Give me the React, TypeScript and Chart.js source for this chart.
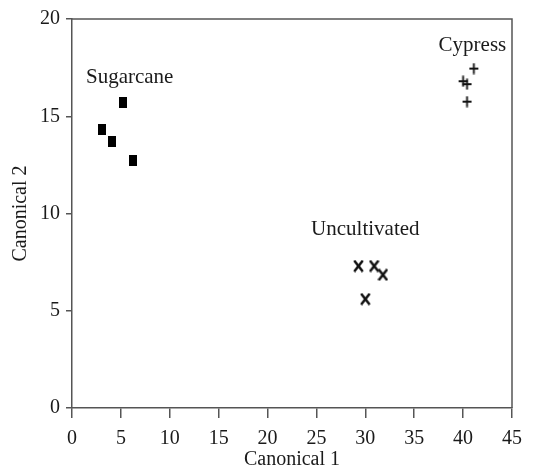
import React, { useEffect, useRef } from "react";
import { Chart, registerables } from "chart.js";

Chart.register(...registerables);

// ---- data ----
const sugarcaneX = [5.2, 3.1, 4.1, 6.2];
const sugarcaneY = [15.7, 14.3, 13.7, 12.7];
const uncultivatedX = [29.3, 30.9, 31.8, 30.0];
const uncultivatedY = [7.3, 7.3, 6.85, 5.6];
const cypressX = [41.1, 40.0, 40.4, 40.4];
const cypressY = [17.45, 16.8, 16.65, 15.75];

const groupNames = ["Sugarcane", "Uncultivated", "Cypress"];
const groupLabelX = [5.9, 30.0, 40.95];
const groupLabelY = [17.0, 9.2, 18.66];

const xTitle = "Canonical 1";
const yTitle = "Canonical 2";
const xMin = 0, xMax = 45, xStep = 5;
const yMin = 0, yMax = 20, yStep = 5;

const FONT = "'Liberation Serif', 'Times New Roman', serif";
const INK = "#1a1a1a";
const AXIS = "#555";

function makeCanvas(w: number, h: number, draw: (c: CanvasRenderingContext2D) => void) {
  const cv = document.createElement("canvas");
  cv.width = w;
  cv.height = h;
  const c = cv.getContext("2d")!;
  draw(c);
  return cv;
}

const toPts = (xs: number[], ys: number[]) => xs.map((x, i) => ({ x, y: ys[i] }));

export default function App() {
  const ref = useRef<HTMLCanvasElement>(null);

  useEffect(() => {
    const square = makeCanvas(8, 11, (c) => {
      c.fillStyle = "#000";
      c.fillRect(0, 0, 8, 11);
    });
    const xMark = makeCanvas(11, 13, (c) => {
      c.strokeStyle = "#111";
      c.lineWidth = 2.5;
      c.beginPath();
      c.moveTo(1.2, 1);
      c.lineTo(9.8, 12);
      c.moveTo(9.8, 1);
      c.lineTo(1.2, 12);
      c.stroke();
    });
    const plus = makeCanvas(11, 12, (c) => {
      c.strokeStyle = "#111";
      c.lineWidth = 1.8;
      c.beginPath();
      c.moveTo(1, 6);
      c.lineTo(10, 6);
      c.moveTo(5.5, 0.5);
      c.lineTo(5.5, 11.5);
      c.stroke();
    });

    const framePlugin = {
      id: "frame",
      afterDraw(chart: any) {
        const { ctx, chartArea: a, scales } = chart;
        ctx.save();
        ctx.strokeStyle = AXIS;
        ctx.lineWidth = 1.5;
        ctx.beginPath();
        ctx.moveTo(a.left, a.top);
        ctx.lineTo(a.right, a.top);
        ctx.lineTo(a.right, a.bottom);
        ctx.stroke();
        ctx.fillStyle = INK;
        ctx.font = `21px ${FONT}`;
        ctx.textAlign = "center";
        ctx.textBaseline = "middle";
        groupNames.forEach((n, i) => {
          ctx.fillText(n, scales.x.getPixelForValue(groupLabelX[i]), scales.y.getPixelForValue(groupLabelY[i]));
        });
        ctx.restore();
      },
    };

    const chart = new Chart(ref.current!, {
      type: "scatter",
      data: {
        datasets: [
          { label: groupNames[0], data: toPts(sugarcaneX, sugarcaneY), pointStyle: square as any, pointRadius: 6 },
          { label: groupNames[1], data: toPts(uncultivatedX, uncultivatedY), pointStyle: xMark as any, pointRadius: 6 },
          { label: groupNames[2], data: toPts(cypressX, cypressY), pointStyle: plus as any, pointRadius: 6 },
        ],
      },
      options: {
        responsive: false,
        animation: false,
        events: [],
        layout: { padding: { top: 19, right: 30, left: 0, bottom: 0 } },
        plugins: { legend: { display: false }, tooltip: { enabled: false } },
        scales: {
          x: {
            type: "linear",
            min: xMin,
            max: xMax,
            ticks: { stepSize: xStep, color: INK, font: { family: FONT, size: 20 }, padding: 9, maxRotation: 0 },
            grid: { drawOnChartArea: false, drawTicks: true, tickLength: 10, color: AXIS, lineWidth: 1.5 },
            border: { color: AXIS, width: 1.5 },
            title: { display: true, text: xTitle, color: INK, font: { family: FONT, size: 20, lineHeight: 1 }, padding: { top: 0, bottom: -2 } },
            afterFit: (s: any) => { s.height = 60; },
          },
          y: {
            type: "linear",
            min: yMin,
            max: yMax,
            ticks: { stepSize: yStep, color: INK, font: { family: FONT, size: 20 }, padding: 6 },
            grid: { drawOnChartArea: false, drawTicks: true, tickLength: 6, color: AXIS, lineWidth: 1.5 },
            border: { color: AXIS, width: 1.5 },
            title: { display: true, text: yTitle, color: INK, font: { family: FONT, size: 20 }, padding: { top: 9, bottom: 0 } },
            afterFit: (s: any) => { s.width = 72; },
          },
        },
      },
      plugins: [framePlugin],
    });
    return () => chart.destroy();
  }, []);

  return (
    <div style={{ position: "absolute", left: 0, top: 0, width: 542, height: 468, background: "#fff" }}>
      <canvas ref={ref} width={542} height={468} style={{ display: "block" }} />
    </div>
  );
}
